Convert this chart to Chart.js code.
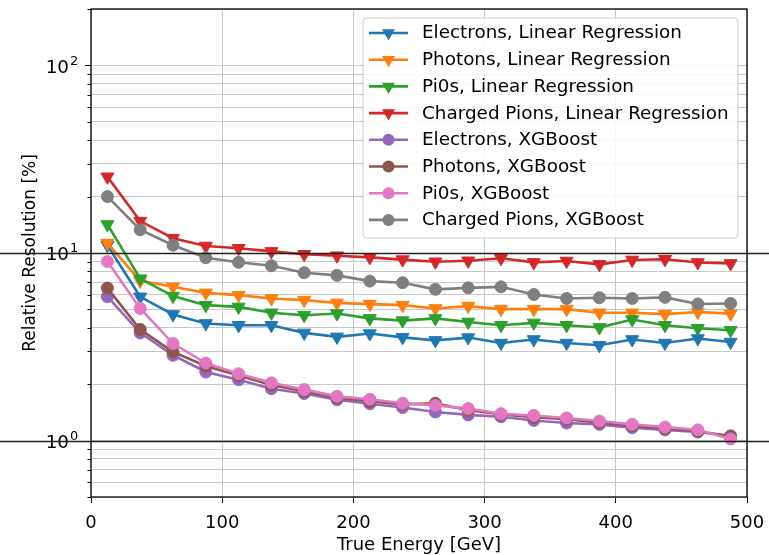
<!DOCTYPE html>
<html>
<head>
<meta charset="utf-8">
<script src="https://cdn.jsdelivr.net/npm/chart.js@4.4.0/dist/chart.umd.min.js"></script>
<style>
  html, body { margin: 0; padding: 0; background: #fff; }
  canvas { display: block; }
</style>
</head>
<body>
<canvas id="resolution" width="769" height="555"></canvas>
<script>
// energy bin centres [GeV]
const energies = [12.5, 37.5, 62.5, 87.5, 112.5, 137.5, 162.5, 187.5, 212.5, 237.5,
                  262.5, 287.5, 312.5, 337.5, 362.5, 387.5, 412.5, 437.5, 462.5, 487.5];

// relative resolution [%] per particle type and regressor
const elecLinReg = [11.0, 5.84, 4.70, 4.21, 4.12, 4.12, 3.75, 3.57, 3.72, 3.55, 3.42, 3.54, 3.31, 3.46, 3.31, 3.22, 3.46, 3.31, 3.50, 3.35];
const photLinReg = [11.3, 7.1, 6.60, 6.13, 5.96, 5.72, 5.61, 5.42, 5.34, 5.27, 5.06, 5.21, 5.02, 5.02, 5.02, 4.80, 4.80, 4.72, 4.85, 4.75];
const pi0LinReg  = [14.2, 7.3, 5.89, 5.27, 5.16, 4.80, 4.66, 4.76, 4.48, 4.36, 4.48, 4.29, 4.12, 4.24, 4.12, 4.01, 4.42, 4.12, 3.97, 3.87];
const chPiLinReg = [25.5, 14.8, 12.0, 10.9, 10.6, 10.2, 9.84, 9.67, 9.48, 9.22, 8.98, 9.09, 9.37, 8.91, 9.06, 8.70, 9.18, 9.26, 8.90, 8.80];
const elecXgb    = [5.85, 3.75, 2.85, 2.32, 2.11, 1.89, 1.78, 1.65, 1.57, 1.50, 1.42, 1.37, 1.34, 1.28, 1.24, 1.22, 1.17, 1.14, 1.11, 1.06];
const photXgb    = [6.5, 3.91, 2.97, 2.50, 2.22, 1.98, 1.83, 1.69, 1.62, 1.56, 1.58, 1.45, 1.38, 1.33, 1.30, 1.25, 1.20, 1.16, 1.12, 1.05];
const pi0Xgb     = [9.0, 5.06, 3.29, 2.59, 2.27, 2.03, 1.87, 1.72, 1.66, 1.58, 1.54, 1.48, 1.39, 1.36, 1.32, 1.27, 1.22, 1.18, 1.14, 1.02];
const chPiXgb    = [20.0, 13.3, 11.0, 9.44, 8.92, 8.55, 7.85, 7.60, 7.08, 6.94, 6.40, 6.52, 6.60, 6.01, 5.72, 5.77, 5.72, 5.80, 5.35, 5.38];

const seriesLabels = [
  'Electrons, Linear Regression', 'Photons, Linear Regression', 'Pi0s, Linear Regression', 'Charged Pions, Linear Regression',
  'Electrons, XGBoost', 'Photons, XGBoost', 'Pi0s, XGBoost', 'Charged Pions, XGBoost'
];
const seriesValues = [elecLinReg, photLinReg, pi0LinReg, chPiLinReg, elecXgb, photXgb, pi0Xgb, chPiXgb];
const seriesColors = ['#1f77b4', '#ff7f0e', '#2ca02c', '#d62728', '#9467bd', '#8c564b', '#e377c2', '#7f7f7f'];

const xTicks = [0, 100, 200, 300, 400, 500];
const refLines = [1, 10];
const yDecades = [1, 10, 100];

const FONT = '"DejaVu Sans", "Liberation Sans", sans-serif';
const GRID = '#c8c8c8';
const INK = '#000';
const STRETCH = 1.08;   // text here is set slightly wide

// log-scale tick positions (1..9 per decade) between the axis limits
const yMin = 0.5, yMax = 200;
const yTicks = [];
for (let e = -1; e <= 2; e++) {
  for (let m = 1; m <= 9; m++) {
    const v = +(m * Math.pow(10, e)).toPrecision(6);
    if (v >= yMin && v <= yMax) yTicks.push(v);
  }
}
const isDecade = v => Math.abs(Math.log10(v) - Math.round(Math.log10(v))) < 1e-9;

const isTriangle = i => i < 4;
const N = seriesValues.length;

const datasets = seriesValues.map((vals, i) => ({
  label: seriesLabels[i],
  data: energies.map((x, j) => ({ x: x, y: vals[j] })),
  borderColor: seriesColors[i],
  backgroundColor: seriesColors[i],
  pointBackgroundColor: seriesColors[i],
  pointBorderColor: seriesColors[i],
  pointBorderWidth: 1,
  borderWidth: 2.6,
  tension: 0,
  pointStyle: isTriangle(i) ? 'triangle' : 'circle',
  pointRotation: isTriangle(i) ? 180 : 0,
  pointRadius: isTriangle(i) ? 7.5 : 6,
  order: N - 1 - i   // later series drawn on top
}));

function markerPath(ctx, i, x, y) {
  ctx.beginPath();
  if (isTriangle(i)) {
    const r = 7.5;
    ctx.moveTo(x, y + r);
    ctx.lineTo(x - r * Math.sin(Math.PI / 3), y - r / 2);
    ctx.lineTo(x + r * Math.sin(Math.PI / 3), y - r / 2);
    ctx.closePath();
  } else {
    ctx.arc(x, y, 6, 0, Math.PI * 2);
  }
}

function wideText(ctx, text, x, y) {
  ctx.save();
  ctx.translate(x, y);
  ctx.scale(STRETCH, 1);
  ctx.fillText(text, 0, 0);
  ctx.restore();
}

const decorations = {
  id: 'decorations',
  afterDraw(chart) {
    const { ctx, chartArea: a, scales: { y } } = chart;
    ctx.save();

    // y tick marks outside the left spine
    ctx.strokeStyle = INK;
    ctx.lineWidth = 1;
    y.ticks.forEach(t => {
      const py = Math.round(y.getPixelForValue(t.value)) + 0.5;
      const len = isDecade(t.value) ? 6 : 3.5;
      ctx.beginPath();
      ctx.moveTo(a.left - len, py);
      ctx.lineTo(a.left, py);
      ctx.stroke();
    });

    // decade labels: "10" with a raised exponent
    ctx.fillStyle = INK;
    ctx.textBaseline = 'middle';
    yDecades.forEach(v => {
      const py = y.getPixelForValue(v);
      const exp = String(Math.round(Math.log10(v)));
      ctx.font = '17px ' + FONT;
      ctx.textAlign = 'right';
      wideText(ctx, '10', a.left - 22, py + 3);
      ctx.font = '12px ' + FONT;
      ctx.textAlign = 'left';
      wideText(ctx, exp, a.left - 21, py - 4);
    });

    // axes frame
    ctx.lineWidth = 1.3;
    ctx.strokeStyle = INK;
    ctx.strokeRect(a.left, a.top, a.right - a.left, a.bottom - a.top);

    // horizontal reference lines across the full width
    ctx.strokeStyle = '#222';
    ctx.lineWidth = 1.3;
    refLines.forEach(v => {
      const py = Math.round(y.getPixelForValue(v)) + 0.5;
      ctx.beginPath();
      ctx.moveTo(0, py);
      ctx.lineTo(chart.width, py);
      ctx.stroke();
    });

    // legend box in the upper right of the plot
    const bx = 363, by = 18, bw = 375, bh = 220, rad = 4;
    ctx.beginPath();
    ctx.moveTo(bx + rad, by);
    ctx.arcTo(bx + bw, by, bx + bw, by + bh, rad);
    ctx.arcTo(bx + bw, by + bh, bx, by + bh, rad);
    ctx.arcTo(bx, by + bh, bx, by, rad);
    ctx.arcTo(bx, by, bx + bw, by, rad);
    ctx.closePath();
    ctx.fillStyle = 'rgba(255,255,255,0.85)';
    ctx.fill();
    ctx.strokeStyle = '#cccccc';
    ctx.lineWidth = 1;
    ctx.stroke();

    ctx.font = '17px ' + FONT;
    ctx.textBaseline = 'middle';
    ctx.textAlign = 'left';
    seriesLabels.forEach((label, i) => {
      const cy = 33 + i * 26.7;
      ctx.strokeStyle = seriesColors[i];
      ctx.lineWidth = 2.6;
      ctx.beginPath();
      ctx.moveTo(369, cy);
      ctx.lineTo(408, cy);
      ctx.stroke();
      ctx.fillStyle = seriesColors[i];
      markerPath(ctx, i, 388.5, cy);
      ctx.fill();
      ctx.fillStyle = INK;
      wideText(ctx, label, 422, cy + 1);
    });

    ctx.restore();
  }
};

new Chart(document.getElementById('resolution'), {
  type: 'line',
  data: { datasets },
  options: {
    responsive: false,
    animation: false,
    layout: { padding: { left: 0, right: 22, top: 9, bottom: 0 } },
    plugins: {
      legend: { display: false },
      tooltip: { enabled: false }
    },
    scales: {
      x: {
        type: 'linear',
        min: 0,
        max: 500,
        afterBuildTicks(s) { s.ticks = xTicks.map(v => ({ value: v })); },
        ticks: { color: INK, font: { family: FONT, size: 18 }, padding: 10, maxRotation: 0, autoSkip: false },
        grid: { color: GRID, lineWidth: 1, tickLength: 6, tickColor: INK, tickWidth: 1 },
        border: { display: false },
        title: {
          display: true, text: 'True Energy [GeV]', color: INK,
          font: { family: FONT, size: 18 }, padding: { top: 0, bottom: -1 }
        },
        afterFit(s) { s.height = 58; s.paddingLeft = 0; s.paddingRight = 0; }
      },
      y: {
        type: 'logarithmic',
        min: yMin,
        max: yMax,
        afterBuildTicks(s) { s.ticks = yTicks.map(v => ({ value: v })); },
        ticks: { autoSkip: false, display: false },
        grid: { color: GRID, lineWidth: 1, drawTicks: false },
        border: { display: false },
        title: {
          display: true, text: 'Relative Resolution [%]', color: INK,
          font: { family: FONT, size: 17 }, padding: { top: 20, bottom: 0 }
        },
        afterFit(s) { s.width = 91; s.paddingTop = 0; s.paddingBottom = 0; }
      }
    }
  },
  plugins: [decorations]
});
</script>
</body>
</html>
